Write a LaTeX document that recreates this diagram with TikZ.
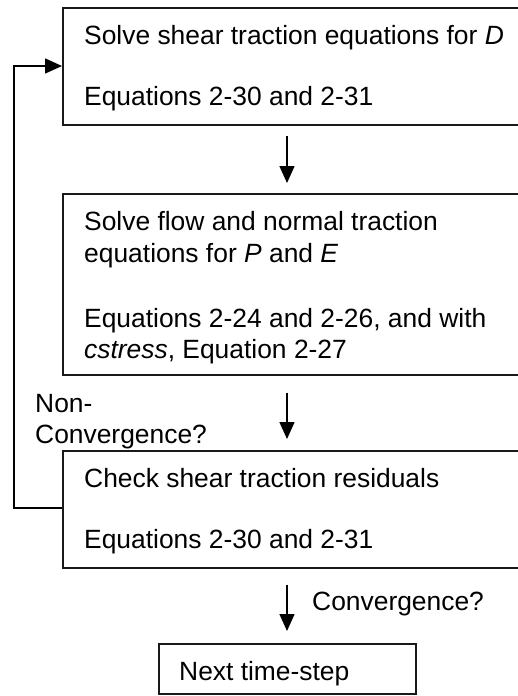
\documentclass[tikz,border=0pt]{standalone}
\usepackage{fontspec}
\setmainfont{Liberation Sans}
\usetikzlibrary{arrows.meta,calc}
\begin{document}
\begin{tikzpicture}[x=1pt,y=-1pt,
  box/.style={draw=black!90, line width=1.6pt, rectangle, inner sep=0pt, anchor=north west},
  txt/.style={anchor=base west, inner sep=0pt, font=\fontsize{26.4}{31}\selectfont},
  arr/.style={draw=black, line width=1.6pt, -{Triangle[width=15pt,length=17pt]}}]
\useasboundingbox (0,0) rectangle (518,696);
\clip (0,0) rectangle (518,696);
% boxes
\node[box, minimum width=458pt, minimum height=117pt] (b1) at (62,7) {};
\node[box, minimum width=458pt, minimum height=181pt] (b2) at (62,193) {};
\node[box, minimum width=458pt, minimum height=117pt] (b3) at (62,450) {};
\node[box, minimum width=257pt, minimum height=50pt] (b4) at (158,643) {};
% texts
\node[txt] (t1a) at (84,44) {Solve shear traction equations for \textit{D}};
\node[txt] (t1b) at (84,105) {Equations 2-30 and 2-31};
\node[txt] (t2a) at (84,230) {Solve flow and normal traction};
\node[txt] (t2b) at (84,262) {equations for \textit{P} and \textit{E}};
\node[txt] (t2c) at (84,327) {Equations 2-24 and 2-26, and with};
\node[txt] (t2d) at (84,358) {\textit{cstress}, Equation 2-27};
\node[txt] (t3a) at (84,487) {Check shear traction residuals};
\node[txt] (t3b) at (84,548) {Equations 2-30 and 2-31};
\node[txt] (t4) at (179,680) {Next time-step};
\node[txt] (l1a) at (35,412) {Non-};
\node[txt] (l1b) at (35,443) {Convergence?};
\node[txt] (l2) at (312,610) {Convergence?};
% connectors
\coordinate (ax) at (287,0);
\draw[arr, shorten <=10pt, shorten >=10pt] (b1.south -| ax) -- (b2.north -| ax);
\draw[arr, shorten <=17pt, shorten >=11pt] (b2.south -| ax) -- (b3.north -| ax);
\draw[arr, shorten <=16pt, shorten >=12pt] (b3.south -| ax) -- (b4.north -| ax);
\coordinate (fl) at (14,508);
\coordinate (fu) at (14,66);
\draw[arr] (b3.west |- fl) -| (fu) -- (b1.west |- fu);
\end{tikzpicture}
\end{document}
